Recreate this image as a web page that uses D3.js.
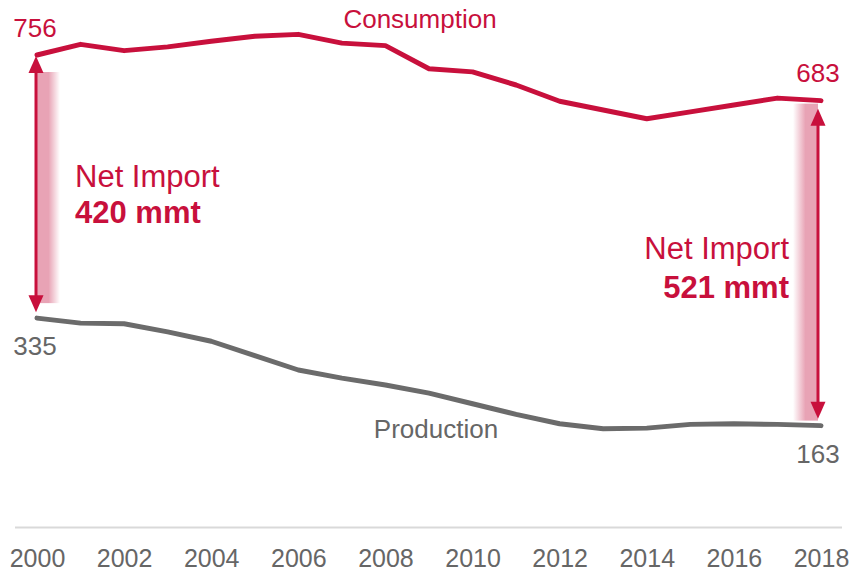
<!DOCTYPE html>
<html>
<head>
  <meta charset="utf-8">
  <title>Consumption vs Production</title>
  <script src="https://d3js.org/d3.v7.min.js"></script>
  <style>
    body { margin: 0; background: #fff; }
    svg text { font-family: "Liberation Sans", Arial, sans-serif; }
  </style>
</head>
<body>
<script>

// data (mmt)
var years = [2000, 2001, 2002, 2003, 2004, 2005, 2006, 2007, 2008, 2009,
             2010, 2011, 2012, 2013, 2014, 2015, 2016, 2017, 2018];
var consumption = [756, 773, 763, 769, 778, 786, 789, 775, 771, 734,
                   729, 708, 682, 668, 654, 665, 676, 687, 683];
var production = [335, 327, 326, 313, 298, 275, 252, 239, 228, 215,
                  198, 181, 166, 158, 159, 165, 166, 165, 163];
var netImport = [420, 521];   // as labelled: 2000, 2018
var tickYears = [2000, 2002, 2004, 2006, 2008, 2010, 2012, 2014, 2016, 2018];

var width = 854,
    height = 572;

var red = "#c8103c",
    pink = "#e8a3b5",
    grey = "#6b6b6b";

var svg = d3.select("body").append("svg")
    .attr("width", width)
    .attr("height", height);

var x = d3.scaleLinear().domain([2000, 2018]).range([37, 821]);
var y = d3.scaleLinear().domain([0, 800]).range([527.5, 27.5]);

// gradients for the shaded bands
var defs = svg.append("defs");
var gl = defs.append("linearGradient").attr("id", "shadeL");
gl.append("stop").attr("offset", "0%").attr("stop-color", pink);
gl.append("stop").attr("offset", "50%").attr("stop-color", pink);
gl.append("stop").attr("offset", "100%").attr("stop-color", "#fff");
var gr = defs.append("linearGradient").attr("id", "shadeR");
gr.append("stop").attr("offset", "0%").attr("stop-color", "#fff");
gr.append("stop").attr("offset", "50%").attr("stop-color", pink);
gr.append("stop").attr("offset", "100%").attr("stop-color", pink);

var n = years.length - 1;

svg.append("rect")
    .attr("x", x(years[0]))
    .attr("y", y(consumption[0]) + 17)
    .attr("width", 23)
    .attr("height", (y(production[0]) - 15) - (y(consumption[0]) + 17))
    .attr("fill", "url(#shadeL)");

svg.append("rect")
    .attr("x", x(years[n]) - 28)
    .attr("y", y(consumption[n]) + 3)
    .attr("width", 25)
    .attr("height", (y(production[n]) - 5) - (y(consumption[n]) + 3))
    .attr("fill", "url(#shadeR)");

// baseline + year labels
svg.append("line")
    .attr("x1", 15).attr("x2", 842)
    .attr("y1", y(0)).attr("y2", y(0))
    .attr("stroke", "#d9d9d9")
    .attr("stroke-width", 2);

var axis = svg.append("g")
    .attr("transform", "translate(0," + y(0) + ")")
    .call(d3.axisBottom(x).tickValues(tickYears).tickFormat(d3.format("d"))
      .tickSize(0).tickPadding(22));
axis.select(".domain").remove();
axis.selectAll("text")
    .attr("fill", "#666")
    .style("font-size", "25px")
    .style("font-family", "'Liberation Sans', Arial, sans-serif");

// lines
var line = function(vals) {
  return d3.line()
    .x(function(d, i) { return x(years[i]); })
    .y(function(d) { return y(d); })(vals);
};

svg.append("path")
    .attr("d", line(consumption))
    .attr("fill", "none")
    .attr("stroke", red)
    .attr("stroke-width", 5)
    .attr("stroke-linejoin", "round")
    .attr("stroke-linecap", "round");

svg.append("path")
    .attr("d", line(production))
    .attr("fill", "none")
    .attr("stroke", grey)
    .attr("stroke-width", 5)
    .attr("stroke-linejoin", "round")
    .attr("stroke-linecap", "round");

// double arrows
function arrow(ax, top, bottom) {
  var g = svg.append("g").attr("fill", red);
  g.append("line")
      .attr("x1", ax).attr("x2", ax)
      .attr("y1", top + 10).attr("y2", bottom - 10)
      .attr("stroke", red).attr("stroke-width", 3);
  g.append("path")
      .attr("d", "M" + ax + "," + top + "L" + (ax - 7.5) + "," + (top + 17) + "L" + (ax + 7.5) + "," + (top + 17) + "Z");
  g.append("path")
      .attr("d", "M" + ax + "," + bottom + "L" + (ax - 7.5) + "," + (bottom - 17) + "L" + (ax + 7.5) + "," + (bottom - 17) + "Z");
}
arrow(x(years[0]) - 1, y(consumption[0]) + 1, y(production[0]) - 6);
arrow(x(years[n]) - 3, y(consumption[n]) + 8, y(production[n]) - 7);

// labels
function label(tx, ty, str, opts) {
  return svg.append("text")
      .attr("x", tx).attr("y", ty)
      .attr("text-anchor", opts.anchor || "middle")
      .attr("fill", opts.color)
      .style("font-size", opts.size + "px")
      .style("font-weight", opts.bold ? "bold" : "normal")
      .text(str);
}

label(x(years[0]) - 2, 37, consumption[0], {color: red, size: 26});
label(x(years[n]) - 3, 82, consumption[n], {color: red, size: 26});
label(x(years[0]) - 2, 355, production[0], {color: "#666", size: 26});
label(x(years[n]) - 3, 463, production[n], {color: "#666", size: 26});

label(420, 28, "Consumption", {color: red, size: 26});
label(436, 438, "Production", {color: "#666", size: 26});

label(75, 187, "Net Import", {color: red, size: 31, anchor: "start"});
label(75, 223, netImport[0] + " mmt", {color: red, size: 31, bold: true, anchor: "start"});
label(789, 259, "Net Import", {color: red, size: 31, anchor: "end"});
label(789, 298, netImport[1] + " mmt", {color: red, size: 31, bold: true, anchor: "end"});

</script>
</body>
</html>
